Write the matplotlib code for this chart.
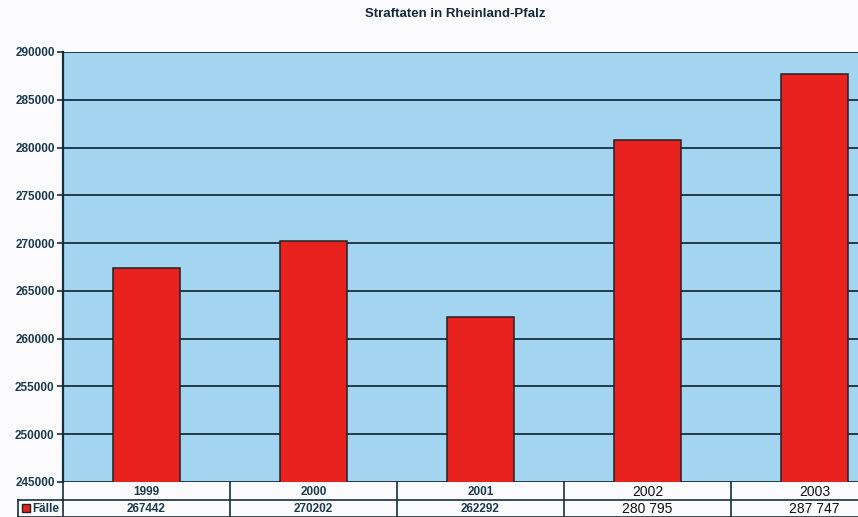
import matplotlib
matplotlib.use("Agg")
import matplotlib.pyplot as plt
from matplotlib.transforms import blended_transform_factory
from matplotlib.patches import Rectangle

years = ["1999", "2000", "2001", "2002", "2003"]
cases = [267442, 270202, 262292, 280795, 287747]
value_labels = ["267442", "270202", "262292", "280 795", "287 747"]
series_name = "Fälle"
title = "Straftaten in Rheinland-Pfalz"

W, H = 858, 517
fig = plt.figure(figsize=(W / 100, H / 100), dpi=100)
fig.patch.set_facecolor("#fbfbfd")
plt.rcParams['font.family'] = ['Liberation Sans', 'DejaVu Sans']

ax_left, ax_top, ax_bottom = 63, 52, 482
ax = fig.add_axes([ax_left / W, (H - ax_bottom) / H, (W - ax_left) / W, (ax_bottom - ax_top) / H])
ax.set_facecolor("#a3d5f0")
dark = "#15303d"
text_c = "#1c3a4c"
red = "#e8231f"

x = list(range(len(years)))
ax.bar(x, cases, width=0.4, color=red, edgecolor="#222222", linewidth=1.1, zorder=3)
ax.set_ylim(245000, 290000)
cat_px = 167.0
ax.set_xlim(-0.5, -0.5 + (W - ax_left) / cat_px)
ax.set_yticks(range(245000, 290001, 5000))
ax.set_yticklabels([str(v) for v in range(245000, 290001, 5000)], fontsize=8.5, fontweight="bold", color=text_c)
ax.tick_params(axis="y", length=4, width=1.2, color=dark, pad=2)
ax.set_xticks([])
ax.grid(axis="y", color=dark, linewidth=1.3, zorder=1)
for s in ["top", "right", "bottom"]:
    ax.spines[s].set_visible(False)
ax.spines["left"].set_color(dark)
ax.spines["left"].set_linewidth(1.6)

fig.text(0.531, 1 - 14 / H, title, ha="center", va="center", fontsize=9.5, fontweight="bold", color="#15283a")

# data table below
tr = blended_transform_factory(ax.transData, ax.transAxes)
ah = ax_bottom - ax_top
r1 = -18 / ah
r2 = -35 / ah
lw = 1.2
ax.plot([-0.5, 10], [r1, r1], transform=tr, color=dark, lw=lw, clip_on=False)
leg_left = -0.5 - (ax_left - 18) / cat_px
ax.plot([leg_left, -0.5], [r1, r1], transform=tr, color=dark, lw=lw, clip_on=False)
ax.plot([leg_left, leg_left], [r1, r2], transform=tr, color=dark, lw=lw, clip_on=False)
ax.plot([leg_left, 10], [r2, r2], transform=tr, color=dark, lw=lw, clip_on=False)
for i in range(len(years) + 1):
    ax.plot([i - 0.5, i - 0.5], [0, r2], transform=tr, color=dark, lw=lw, clip_on=False)
for i, (yr, val) in enumerate(zip(years, value_labels)):
    bold = " " not in val
    fs = 8.5 if bold else 10
    fw = "bold" if bold else "normal"
    col = text_c if bold else "#111111"
    ax.text(i, r1 / 2 - 0.003, yr, transform=tr, ha="center", va="center", fontsize=fs,
            fontweight=fw, color=col, clip_on=False)
    ax.text(i, (r1 + r2) / 2 - 0.002, val, transform=tr, ha="center", va="center", fontsize=fs,
            fontweight=fw, color=col, clip_on=False)
fig.patches.append(Rectangle((22 / W, 1 - 512 / H), 8 / W, 8 / H, transform=fig.transFigure,
                             facecolor=red, edgecolor="#222222", lw=1))
fig.text(32 / W, 1 - 509 / H, series_name, ha="left", va="center", fontsize=8.5, fontweight="bold", color=text_c)

fig.savefig("out.png", dpi=100, facecolor=fig.get_facecolor())
